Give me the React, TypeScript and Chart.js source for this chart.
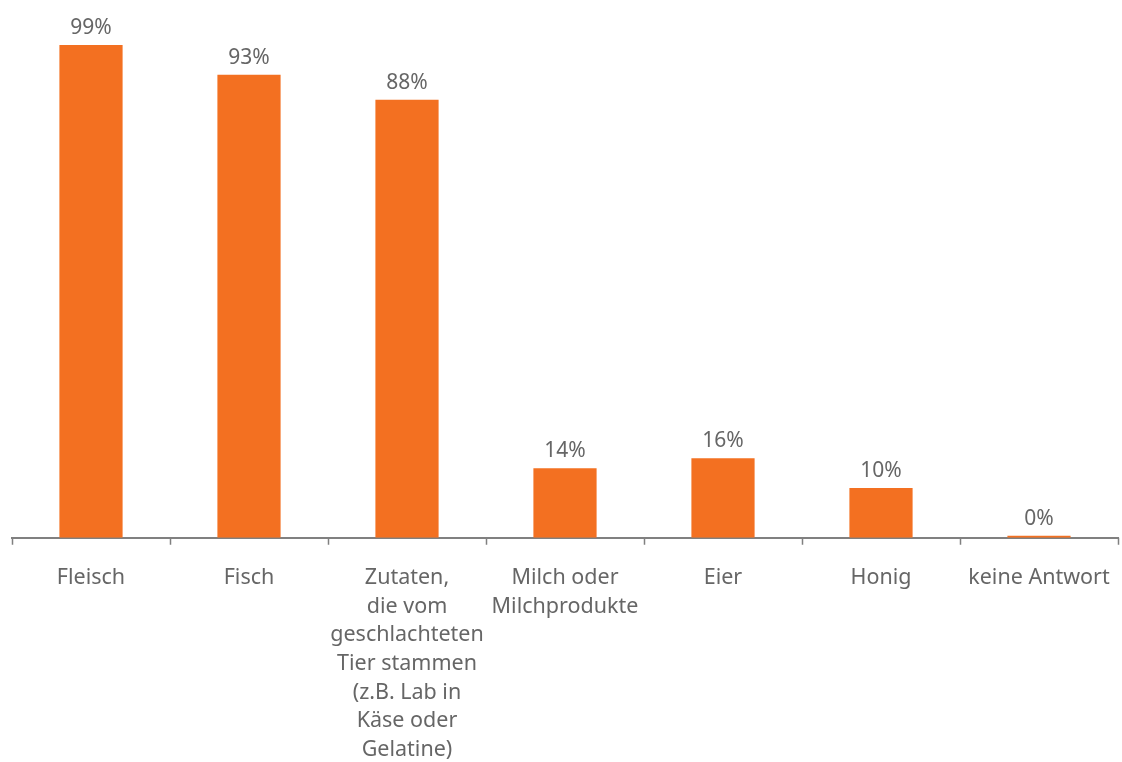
import React, { useEffect, useRef } from "react";
import { Chart, registerables } from "chart.js";

Chart.register(...registerables);

const categories: (string | string[])[] = [
  "Fleisch",
  "Fisch",
  ["Zutaten,", "die vom", "geschlachteten", "Tier stammen", "(z.B. Lab in", "Käse oder", "Gelatine)"],
  ["Milch oder", "Milchprodukte"],
  "Eier",
  "Honig",
  "keine Antwort",
];
const values: number[] = [99, 93, 88, 14, 16, 10, 0];
const valueLabels: string[] = ["99%", "93%", "88%", "14%", "16%", "10%", "0%"];

const FONT = "'Noto Sans', 'DejaVu Sans', sans-serif";

const dataLabelPlugin = {
  id: "dataLabels",
  afterDatasetsDraw(chart: any) {
    const ctx = chart.ctx;
    const meta = chart.getDatasetMeta(0);
    ctx.save();
    ctx.font = `21px ${FONT}`;
    ctx.fillStyle = "#666666";
    ctx.textAlign = "center";
    ctx.textBaseline = "alphabetic";
    meta.data.forEach((el: any, i: number) => {
      ctx.fillText(valueLabels[i], el.x, el.y - 11);
    });
    ctx.restore();
  },
};

const tickMarkPlugin = {
  id: "tickMarks",
  afterDraw(chart: any) {
    const ctx = chart.ctx;
    const x = chart.scales.x;
    const n = x.ticks.length;
    const pts: number[] = [x.left];
    for (let i = 1; i < n; i++) {
      pts.push((x.getPixelForTick(i) + x.getPixelForTick(i - 1)) / 2);
    }
    pts.push(x.right);
    ctx.save();
    ctx.strokeStyle = "#808080";
    ctx.lineWidth = 1.5;
    ctx.beginPath();
    pts.forEach((p) => {
      const px = Math.round(p) + 0.5;
      ctx.moveTo(px, x.top);
      ctx.lineTo(px, x.top + 7);
    });
    ctx.stroke();
    ctx.restore();
  },
};

export default function App() {
  const ref = useRef<HTMLCanvasElement>(null);
  useEffect(() => {
    if (!ref.current) return;
    const chart = new Chart(ref.current, {
      type: "bar",
      data: {
        labels: categories,
        datasets: [
          {
            data: values,
            backgroundColor: "#F37021",
            borderWidth: 0,
            barPercentage: 0.4,
            categoryPercentage: 1,
            minBarLength: 2,
          },
        ],
      },
      options: {
        animation: false,
        responsive: false,
        maintainAspectRatio: false,
        layout: { padding: { left: 12, right: 4, top: 40, bottom: -10 } },
        plugins: { legend: { display: false }, tooltip: { enabled: false } },
        scales: {
          y: { display: false, min: 0, max: 100 },
          x: {
            grid: {
              display: true,
              offset: true,
              drawOnChartArea: false,
              drawTicks: true,
              tickLength: 18,
              color: "rgba(0,0,0,0)",
              tickColor: "rgba(0,0,0,0)",
            },
            border: { display: true, color: "#808080", width: 2 },
            ticks: {
              autoSkip: false,
              maxRotation: 0,
              minRotation: 0,
              color: "#666666",
              padding: 8,
              font: { family: FONT, size: 21.5, lineHeight: 1.33 },
            },
          },
        },
      },
      plugins: [dataLabelPlugin, tickMarkPlugin],
    });
    return () => chart.destroy();
  }, []);
  return (
    <div style={{ position: "fixed", left: 0, top: 0, width: 1122, height: 762, background: "#fff" }}>
      <canvas ref={ref} width={1122} height={762} style={{ width: 1122, height: 762 }} />
    </div>
  );
}
